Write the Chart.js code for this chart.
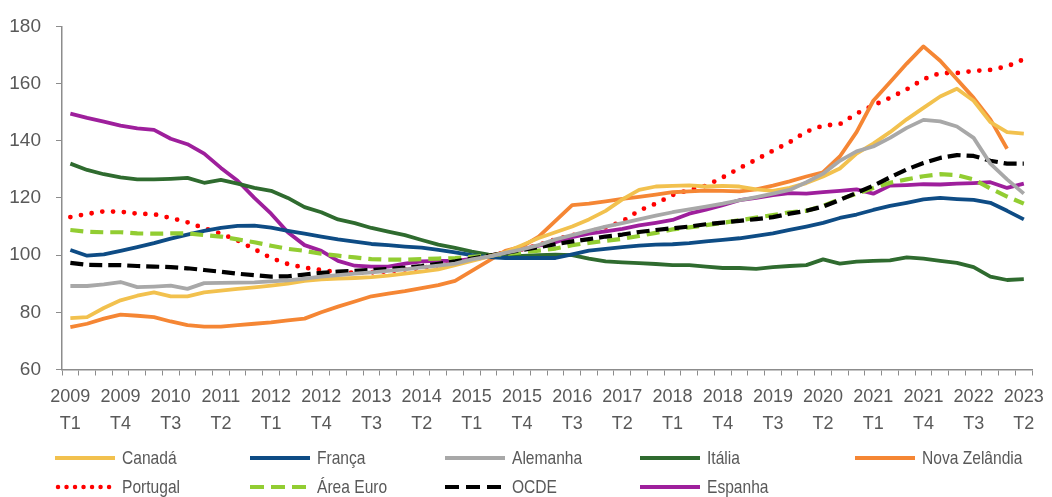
<!DOCTYPE html>
<html>
<head>
<meta charset="utf-8">
<script src="https://cdn.jsdelivr.net/npm/chart.js@4.4.1/dist/chart.umd.min.js"></script>
<style>
  html, body { margin: 0; padding: 0; background: #ffffff; }
  #wrap { position: relative; width: 1052px; height: 497px; overflow: hidden; }
  #chart { position: absolute; left: 0; top: 0; }
  #legend { position: absolute; left: 0; top: 0; width: 1052px; height: 497px; pointer-events: none;
            font-family: "Liberation Sans", Arial, sans-serif;
            font-size: 19px; color: #595959; }
  .item { position: absolute; display: flex; align-items: center; height: 24px; white-space: nowrap; }
  .item svg { margin-right: 7px; flex: none; }
  .item span { display: inline-block; transform: scaleX(0.82); transform-origin: left center; }
</style>
</head>
<body>
<div id="wrap">
  <canvas id="chart" width="1052" height="497"></canvas>
  <div id="legend"></div>
</div>
<script>
// ---------- DATA ----------
const categories = [
  '2009 T1','2009 T2','2009 T3','2009 T4',
  '2010 T1','2010 T2','2010 T3','2010 T4',
  '2011 T1','2011 T2','2011 T3','2011 T4',
  '2012 T1','2012 T2','2012 T3','2012 T4',
  '2013 T1','2013 T2','2013 T3','2013 T4',
  '2014 T1','2014 T2','2014 T3','2014 T4',
  '2015 T1','2015 T2','2015 T3','2015 T4',
  '2016 T1','2016 T2','2016 T3','2016 T4',
  '2017 T1','2017 T2','2017 T3','2017 T4',
  '2018 T1','2018 T2','2018 T3','2018 T4',
  '2019 T1','2019 T2','2019 T3','2019 T4',
  '2020 T1','2020 T2','2020 T3','2020 T4',
  '2021 T1','2021 T2','2021 T3','2021 T4',
  '2022 T1','2022 T2','2022 T3','2022 T4',
  '2023 T1','2023 T2'
];

const canada = [78, 78.3, 81.5, 84.2, 85.8, 87, 85.6, 85.6, 87, 87.6, 88.2, 88.7, 89.3, 90, 91,
  91.5, 91.8, 92, 92.3, 92.8, 93.5, 94.2, 95, 96.5, 98, 99.5, 101, 103.5, 106, 108,
  110, 112.5, 115.5, 119.5, 122.8, 124, 124.2, 124.4, 124, 124.2, 124, 123, 122.5, 123.5,
  125.2, 127.5, 130.3, 135.5, 139, 143, 147.5, 151.5, 155.5, 158.2, 154, 146.5, 143, 142.5];

const franca = [101.8, 99.8, 100.3, 101.5, 102.8, 104.2, 105.8, 107.2, 108.5, 109.5, 110.2, 110.3, 109.6, 108.5, 107.5,
  106.5, 105.5, 104.7, 103.9, 103.5, 103, 102.6, 101.8, 101, 100, 99.3, 99, 99, 99, 99,
  100.3, 101.6, 102.2, 102.8, 103.3, 103.7, 103.8, 104.2, 104.8, 105.3, 105.9, 106.7, 107.6, 108.8,
  110, 111.3, 113, 114.2, 115.8, 117.2, 118.3, 119.5, 120, 119.6, 119.3, 118.3, 115.5, 112.5];

const alemanha = [89.2, 89.2, 89.8, 90.6, 88.8, 89, 89.3, 88.2, 90.2, 90.3, 90.4, 90.5, 90.8, 91.2, 91.8,
  92.5, 93, 93.5, 94, 94.5, 95, 95.7, 96.3, 97, 98.5, 99.5, 100.8, 102, 103.5, 105.5,
  107, 108.5, 110, 111.2, 112.5, 113.8, 115, 116, 117, 118, 119.2, 120.3, 121.5, 122.8,
  125.5, 128.5, 133, 136.3, 138, 141, 144.5, 147.3, 146.8, 145, 141, 132, 126.5, 121.5];

const italia = [132, 129.8, 128.3, 127.2, 126.5, 126.5, 126.7, 127, 125.3, 126.3, 125, 123.5, 122.5, 120, 116.8,
  115, 112.5, 111.2, 109.5, 108.2, 107, 105.3, 103.7, 102.5, 101.2, 100.2, 99.8, 99.7, 100, 100.2,
  100, 98.8, 97.8, 97.5, 97.2, 96.9, 96.5, 96.5, 96, 95.5, 95.5, 95.2, 95.8, 96.2,
  96.5, 98.5, 97, 97.7, 98, 98.2, 99.2, 98.8, 98, 97.3, 95.8, 92.5, 91.3, 91.6];

const novaZelandia = [74.8, 76, 77.8, 79.2, 78.8, 78.3, 76.8, 75.5, 75, 75, 75.5, 76, 76.5, 77.2, 77.8,
  80, 82, 83.8, 85.6, 86.5, 87.4, 88.5, 89.5, 91, 94.5, 98, 101.5, 103, 106.5, 112,
  117.5, 118, 118.8, 119.7, 120.4, 121.2, 122, 122.3, 122.6, 122.5, 122.3, 123, 124.3, 125.8,
  127.5, 129, 134.5, 143, 154, 160.5, 167, 173, 168, 161.5, 155, 147.5, 137.2, null];

const portugal = [113.3, 114.4, 115.3, 115.2, 114.5, 114.3, 113, 111.5, 109.4, 107.5, 105.1, 102.1, 99, 96.9, 95.6,
  94.8, 94, 93.8, 94, 94.3, 95, 95.5, 96.5, 97.5, 98.5, 99.5, 101, 102, 103.5, 105.5,
  107, 108.2, 109.7, 111.8, 115.6, 118, 121, 122.8, 124.3, 127.2, 130.4, 133.4, 136.5, 139.5,
  143.2, 145.3, 145.8, 149.5, 152.4, 155, 158, 161.5, 163.7, 163.7, 164.4, 164.8, 166, 168.5];

const areaEuro = [108.8, 108.2, 108, 108, 107.6, 107.5, 107.6, 107.6, 107, 106.5, 105.5, 104.5, 103.3, 102.2, 101.5,
  100.5, 99.8, 99.2, 98.6, 98.4, 98.4, 98.6, 98.8, 99, 99.4, 99.8, 100.4, 101, 101.6, 102.3,
  103.5, 104.3, 105, 105.7, 106.7, 107.8, 109, 109.7, 110.5, 111.3, 112.2, 113.1, 114, 115,
  115.5, 117.2, 119.5, 121.5, 123.5, 125.3, 126.5, 127.6, 128.3, 128, 126.5, 123.3, 120.5, 118];

const ocde = [97.3, 96.6, 96.5, 96.5, 96.2, 96, 95.8, 95.4, 94.8, 94.2, 93.5, 93, 92.5, 92.6, 93.2,
  93.8, 94.2, 94.5, 94.8, 95.2, 95.6, 96.2, 97, 97.8, 98.8, 99.8, 100.8, 101.8, 102.8, 103.8,
  104.8, 105.6, 106.5, 107.2, 108.1, 108.8, 109.4, 110, 110.8, 111.4, 112, 112.6, 113.3, 114.5,
  115.5, 117, 119.3, 121.8, 124.3, 127.2, 130, 132.2, 134, 135, 134.7, 133, 132, 132];

const espanha = [149.5, 148, 146.7, 145.3, 144.3, 143.8, 140.7, 138.8, 135.5, 130.5, 126, 120, 114.5, 108, 103.5,
  101.5, 98, 96.3, 96, 96, 97, 97.8, 98, 98, 98.7, 99.8, 100.8, 102, 103.3, 104.5,
  106.3, 107.5, 108.3, 109.2, 110.4, 111.3, 112.3, 114.5, 115.9, 117.5, 119.2, 120, 121, 121.7,
  121.5, 122, 122.5, 123, 121.5, 124.3, 124.5, 124.8, 124.7, 125, 125.2, 125.5, 123.5, 125];

const seriesNames = ['Canadá', 'França', 'Alemanha', 'Itália', 'Nova Zelândia', 'Portugal', 'Área Euro', 'OCDE', 'Espanha'];
const yTicks = [60, 80, 100, 120, 140, 160, 180];

// ---------- STYLES ----------
const styles = [
  { data: canada,       color: '#F2C14E', width: 3.8, dash: [] },
  { data: franca,       color: '#0E4C85', width: 3.8, dash: [] },
  { data: alemanha,     color: '#A8A8A8', width: 3.8, dash: [] },
  { data: italia,       color: '#2F6B2F', width: 3.8, dash: [] },
  { data: novaZelandia, color: '#F58634', width: 3.8, dash: [] },
  { data: portugal,     color: '#FF0000', width: 4.8, dash: [0, 10.8], cap: 'round' },
  { data: areaEuro,     color: '#92CD32', width: 4.2, dash: [13, 7] },
  { data: ocde,         color: '#000000', width: 4.2, dash: [13, 6] },
  { data: espanha,      color: '#9E1F9C', width: 3.8, dash: [] }
];
const drawOrder = [2, 0, 7, 6, 1, 3, 4, 8, 5];

const datasets = seriesNames.map((name, i) => ({
  label: name,
  data: styles[i].data,
  borderColor: styles[i].color,
  backgroundColor: styles[i].color,
  borderWidth: styles[i].width,
  borderDash: styles[i].dash,
  borderCapStyle: styles[i].cap || 'butt',
  borderJoinStyle: 'round',
  pointRadius: 0,
  pointHoverRadius: 0,
  tension: 0,
  fill: false,
  spanGaps: false,
  order: drawOrder.indexOf(i)
}));

const axisGray = '#8C8C8C';
const textGray = '#595959';

const chart = new Chart(document.getElementById('chart'), {
  type: 'line',
  data: { labels: categories, datasets: datasets },
  options: {
    responsive: false,
    animation: false,
    devicePixelRatio: 1,
    layout: { padding: { left: 0, right: 19, top: 22, bottom: 0 } },
    plugins: { legend: { display: false }, tooltip: { enabled: false } },
    scales: {
      x: {
        type: 'category',
        offset: true,
        grid: { display: true, offset: true, drawOnChartArea: false, drawTicks: true, tickLength: 6, color: axisGray, lineWidth: 1 },
        border: { display: true, color: axisGray, width: 1.5 },
        ticks: {
          autoSkip: false, maxRotation: 0, minRotation: 0, padding: 8,
          color: textGray,
          font: { family: '"Liberation Sans", Arial, sans-serif', size: 18, lineHeight: 1.5 },
          callback: function (v, i) { return i % 3 === 0 ? this.getLabelForValue(v).split(' ') : ''; }
        },
        afterFit: function (s) { s.height = 127.5; }
      },
      y: {
        min: 60, max: 180,
        afterBuildTicks: function (s) { s.ticks = yTicks.map(v => ({ value: v })); },
        grid: { display: true, drawOnChartArea: false, drawTicks: true, tickLength: 6, color: axisGray, lineWidth: 1 },
        border: { display: true, color: axisGray, width: 1.5 },
        ticks: {
          padding: 15, color: textGray,
          font: { family: '"Liberation Sans", Arial, sans-serif', size: 19 }
        },
        afterFit: function (s) { s.width = 62; }
      }
    }
  }
});

// ---------- HTML LEGEND ----------
const legendSlots = [[55, 458], [250, 458], [445, 458], [640, 458], [855, 458], [55, 487], [250, 487], [445, 487], [640, 487]];
const legendEl = document.getElementById('legend');
chart.data.datasets.forEach((ds, i) => {
  const item = document.createElement('div');
  item.className = 'item';
  item.style.left = legendSlots[i][0] + 'px';
  item.style.top = (legendSlots[i][1] - 12) + 'px';
  const svgNS = 'http://www.w3.org/2000/svg';
  const svg = document.createElementNS(svgNS, 'svg');
  svg.setAttribute('width', '60'); svg.setAttribute('height', '10');
  const ln = document.createElementNS(svgNS, 'line');
  const round = ds.borderCapStyle === 'round';
  ln.setAttribute('x1', round ? '3' : '0');
  ln.setAttribute('x2', '60'); ln.setAttribute('y1', '5'); ln.setAttribute('y2', '5');
  ln.setAttribute('stroke', ds.borderColor);
  ln.setAttribute('stroke-width', round ? '4.5' : '4');
  ln.setAttribute('stroke-linecap', ds.borderCapStyle);
  if (ds.borderDash.length) ln.setAttribute('stroke-dasharray', round ? '0.01 8.5' : '14 7');
  svg.appendChild(ln);
  item.appendChild(svg);
  const t = document.createElement('span');
  t.textContent = ds.label;
  item.appendChild(t);
  legendEl.appendChild(item);
});
</script>
</body>
</html>
